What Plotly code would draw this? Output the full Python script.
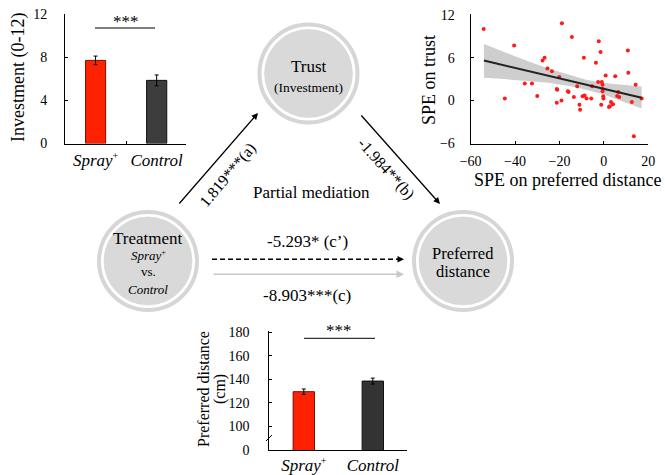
import plotly.graph_objects as go

W, H = 665, 475
FONT = "Liberation Serif, Times New Roman, serif"


def px(x):
    return x / W


def py(y):
    return 1 - y / H


SUP = "<sup><span style='font-size:10px'>+</span></sup>"

# ---------------- data ----------------
groups = ["Spray+", "Control"]
group_ticktext = ["<i>Spray</i>" + SUP, "<i>Control</i>"]
bar_colors = ["#ff2200", "#3d3d3d"]
bar_edges = ["#7a1000", "#111111"]

invest_mean = [7.7, 5.85]
invest_err = [0.4, 0.5]

dist_mean = [129.5, 138.5]
dist_err = [2.3, 2.5]
dist_tickvals = [80, 100, 120, 140, 160, 180]
dist_ticktext = ["0", "100", "120", "140", "160", "180"]

spe_dist = [-54.1, -44.6, -40.4, -35.6, -32.4, -30.0, -27.6, -26.7, -25.4, -23.4,
            -21.2, -21.0, -21.2, -20.1, -19.1, -18.9, -16.2, -15.9, -14.4, -13.5,
            -12.0, -11.0, -10.7, -9.6, -9.0, -8.7, -7.8, -5.7, -5.3, -3.6,
            -2.6, -2.3, -1.5, -1.2, -0.9, -0.6, -0.6, -0.5, -0.3, -0.2,
            0.8, 2.3, 2.7, 3.2, 4.1, 5.1, 6.0, 6.5, 6.9, 10.8,
            11.0, 12.6, 13.5, 14.3, 17.0]
spe_trust = [10.0, 0.3, 7.7, 2.4, 2.4, 0.65, 5.6, 6.0, 4.5, 4.1,
             1.6, 1.5, -0.3, 3.3, 0.0, 10.8, 1.3, 1.2, 8.9, 0.5,
             2.0, -0.6, -1.3, 0.6, 6.0, 0.7, 0.3, 0.3, 2.0, 5.3,
             2.6, 8.3, 6.8, -0.6, 2.6, 2.2, 1.3, 1.6, 0.6, 0.3,
             3.5, -0.9, -0.8, -0.2, -0.5, 3.4, 0.65, 1.2, 0.5, 7.0,
             3.9, -0.2, -5.0, 2.2, 0.3]

fit_x = [-54, 17]
fit_y = [5.6, 0.4]
band_x = [-54, -45, -35, -25, -15, -8, 0, 8, 17]
band_upper = [7.9, 6.8, 5.6, 4.5, 3.5, 2.9, 2.45, 2.2, 1.95]
band_lower = [3.2, 3.0, 2.8, 2.5, 2.0, 1.5, 0.85, -0.05, -1.1]

fig = go.Figure()

# ---------------- top-left bar chart (investment) ----------------
fig.add_trace(go.Bar(
    x=[0, 1], y=invest_mean, width=0.33,
    marker=dict(color=bar_colors, line=dict(color=bar_edges, width=1)),
    error_y=dict(type="data", array=invest_err, color="black", thickness=1, width=2),
    xaxis="x", yaxis="y", hoverinfo="skip"))

# ---------------- scatter ----------------
fig.add_trace(go.Scatter(
    x=band_x + band_x[::-1], y=band_upper + band_lower[::-1],
    fill="toself", fillcolor="rgba(190,190,190,0.75)", line=dict(width=0),
    mode="lines", xaxis="x2", yaxis="y2", hoverinfo="skip"))
fig.add_trace(go.Scatter(
    x=spe_dist, y=spe_trust, mode="markers",
    marker=dict(color="#ff1a1a", size=4),
    xaxis="x2", yaxis="y2", hoverinfo="skip"))
fig.add_trace(go.Scatter(
    x=fit_x, y=fit_y, mode="lines", line=dict(color="#222222", width=2),
    xaxis="x2", yaxis="y2", hoverinfo="skip"))

# ---------------- bottom bar chart (distance) ----------------
fig.add_trace(go.Bar(
    x=[0, 1], y=dist_mean, width=0.31,
    marker=dict(color=["#ff2200", "#333333"], line=dict(color=bar_edges, width=1)),
    error_y=dict(type="data", array=dist_err, color="black", thickness=1, width=2),
    xaxis="x3", yaxis="y3", hoverinfo="skip"))

axis_common = dict(showline=True, linecolor="black", linewidth=1, showgrid=False,
                   zeroline=False, ticks="inside", ticklen=3, tickcolor="black",
                   automargin=False,
                   tickfont=dict(family=FONT, size=14, color="black"), fixedrange=True)

fig.update_layout(
    width=W, height=H, margin=dict(l=0, r=0, t=0, b=0, autoexpand=False),
    paper_bgcolor="white", plot_bgcolor="white", showlegend=False,
    font=dict(family=FONT, color="black"),
    xaxis=dict(axis_common, domain=[px(65), px(186)], range=[-0.5, 1.48],
               tickvals=[0, 1], ticktext=group_ticktext, ticks="",
               tickfont=dict(family=FONT, size=17, color="black"),
               ticklabelstandoff=1, anchor="y",
               minor=dict(tickvals=[0.5], ticks="inside", ticklen=3, tickcolor="black")),
    yaxis=dict(axis_common, domain=[py(143.5), py(14)], range=[0, 12],
               tickvals=[0, 4, 8, 12], ticklabelstandoff=14, anchor="x"),
    xaxis2=dict(axis_common, domain=[px(470.6), px(648.3)], range=[-60, 20],
                tickvals=[-60, -40, -20, 0, 20], ticklabelstandoff=5, anchor="y2"),
    yaxis2=dict(axis_common, domain=[py(143.5), py(14)], range=[-6, 12.1],
                tickvals=[-6, 0, 6, 12], ticklabelstandoff=12, anchor="x2"),
    xaxis3=dict(axis_common, domain=[px(269.3), px(407.3)], range=[-0.5, 1.5],
                tickvals=[0, 1], ticktext=group_ticktext, ticks="",
                tickfont=dict(family=FONT, size=17, color="black"),
                ticklabelstandoff=0, anchor="y3"),
    yaxis3=dict(axis_common, domain=[py(450), py(331)], range=[80, 181],
                tickvals=dist_tickvals, ticktext=dist_ticktext,
                ticklabelstandoff=16, anchor="x3"),
)

shapes = []
annots = []


def label(text, x, y, size=17, angle=0):
    annots.append(dict(text=text, x=px(x), y=py(y), xref="paper", yref="paper",
                       xanchor="center", yanchor="middle", textangle=angle,
                       showarrow=False, font=dict(size=size, family=FONT, color="black")))


# significance markers
shapes.append(dict(type="line", xref="paper", yref="paper",
                   x0=px(95), x1=px(155), y0=py(28), y1=py(28),
                   line=dict(color="black", width=1)))
label("***", 126, 21)
shapes.append(dict(type="line", xref="paper", yref="paper",
                   x0=px(304), x1=px(375), y0=py(338.3), y1=py(338.3),
                   line=dict(color="black", width=1)))
label("***", 339, 330.5)
# axis break mark
shapes.append(dict(type="line", xref="paper", yref="paper",
                   x0=px(266), x1=px(272), y0=py(441), y1=py(435),
                   line=dict(color="black", width=1)))

# axis titles
label("Investment (0-12)", 18, 78, 18, -90)
label("SPE on trust", 429, 80, 18, -90)
label("SPE on preferred distance", 567.5, 180, 18)
label("Preferred distance", 203, 389, 16, -90)
label("(cm)", 220, 389, 16, -90)

# mediation diagram circles
def node(cx, cy):
    shapes.append(dict(type="circle", xref="paper", yref="paper",
                       x0=px(cx - 49), x1=px(cx + 49), y0=py(cy + 49), y1=py(cy - 49),
                       line=dict(color="#d6d6d6", width=4), fillcolor="white", layer="below"))
    shapes.append(dict(type="circle", xref="paper", yref="paper",
                       x0=px(cx - 44), x1=px(cx + 44), y0=py(cy + 44), y1=py(cy - 44),
                       line=dict(color="#d0d0d0", width=0.5), fillcolor="#d9d9d9", layer="below"))

node(308.5, 73.5)
node(148, 261)
node(463, 261)

label("Trust", 308.5, 67, 17)
label("(Investment)", 308.5, 88, 13.5)
label("Treatment", 148, 238, 17)
label("<i>Spray</i><sup><span style='font-size:8px'>+</span></sup>", 148, 255, 13)
label("vs.", 148, 271, 13)
label("<i>Control</i>", 148, 289, 13)
label("Preferred", 463, 253.5, 16.5)
label("distance", 463, 271.5, 16.5)

# arrows
def arrow(x0, y0, x1, y1, color="black", width=1.3):
    annots.append(dict(x=px(x1), y=py(y1), xref="paper", yref="paper",
                       ax=x0 - x1, ay=y0 - y1, axref="pixel", ayref="pixel",
                       text="", showarrow=True, arrowhead=2, arrowsize=1.0,
                       arrowwidth=width, arrowcolor=color))

arrow(178, 205, 258, 113)
arrow(360, 114, 440, 204)
shapes.append(dict(type="line", xref="paper", yref="paper",
                   x0=px(212), x1=px(398), y0=py(259.3), y1=py(259.3),
                   line=dict(color="black", width=1.5, dash="5px,3px")))
arrow(395, 259.3, 404, 259.3)
arrow(212, 274.3, 404, 274.3, color="#c8c8c8", width=1.5)

label("1.819***(a)", 228, 175, 16, -50)
label("-1.984**(b)", 386, 169, 16, 48)
label("Partial mediation", 311.5, 192.5, 17)
label("-5.293* (c\u2019)", 307, 241.5, 17)
label("-8.903***(c)", 307, 295, 17)

fig.update_layout(shapes=shapes, annotations=annots)
fig.write_html("out.html", config=dict(displayModeBar=False),
               post_script="document.body.style.margin='0';document.body.style.overflow='hidden';")
